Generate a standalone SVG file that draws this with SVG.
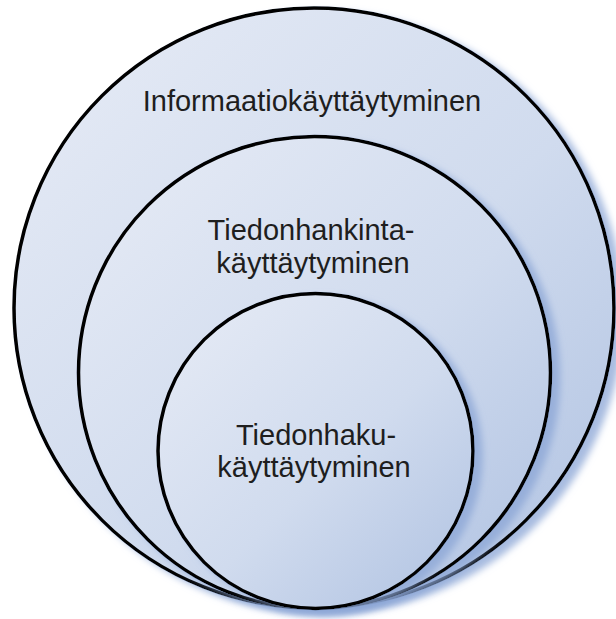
<svg xmlns="http://www.w3.org/2000/svg" width="616" height="619" viewBox="0 0 616 619">
  <defs>
    <!-- soft blue fill, lighter towards the upper left -->
    <linearGradient id="fillBlue" x1="0.15" y1="0.1" x2="0.9" y2="0.9">
      <stop offset="0" stop-color="#e2e8f4"/>
      <stop offset="0.55" stop-color="#d0dbee"/>
      <stop offset="1" stop-color="#b6c7e4"/>
    </linearGradient>
    <!-- blue drop shadow cast to the lower right -->
    <filter id="shadow" x="-10%" y="-10%" width="125%" height="125%">
      <feDropShadow dx="8" dy="5" stdDeviation="3.5" flood-color="#8aa5d6" flood-opacity="0.75"/>
    </filter>
  </defs>
  <style>
    .ring { fill: url(#fillBlue); stroke: #000; stroke-width: 3.5; filter: url(#shadow); }
    .label { font-family: "Liberation Sans", Arial, sans-serif; font-size: 29px; fill: #1e1e1e; text-anchor: middle; }
  </style>

  <rect width="616" height="619" fill="#fff"/>

  <g id="informaatiokayttaytyminen">
    <circle class="ring" cx="314" cy="308" r="300"/>
    <text class="label" x="312" y="111">Informaatiokäyttäytyminen</text>
  </g>

  <g id="tiedonhankintakayttaytyminen">
    <circle class="ring" cx="314.5" cy="372.5" r="236"/>
    <text class="label" x="311" y="240">Tiedonhankinta-</text>
    <text class="label" x="313" y="273">käyttäytyminen</text>
  </g>

  <g id="tiedonhakukayttaytyminen">
    <circle class="ring" cx="315.5" cy="451" r="157.5"/>
    <text class="label" x="316" y="445">Tiedonhaku-</text>
    <text class="label" x="314" y="477">käyttäytyminen</text>
  </g>
</svg>
